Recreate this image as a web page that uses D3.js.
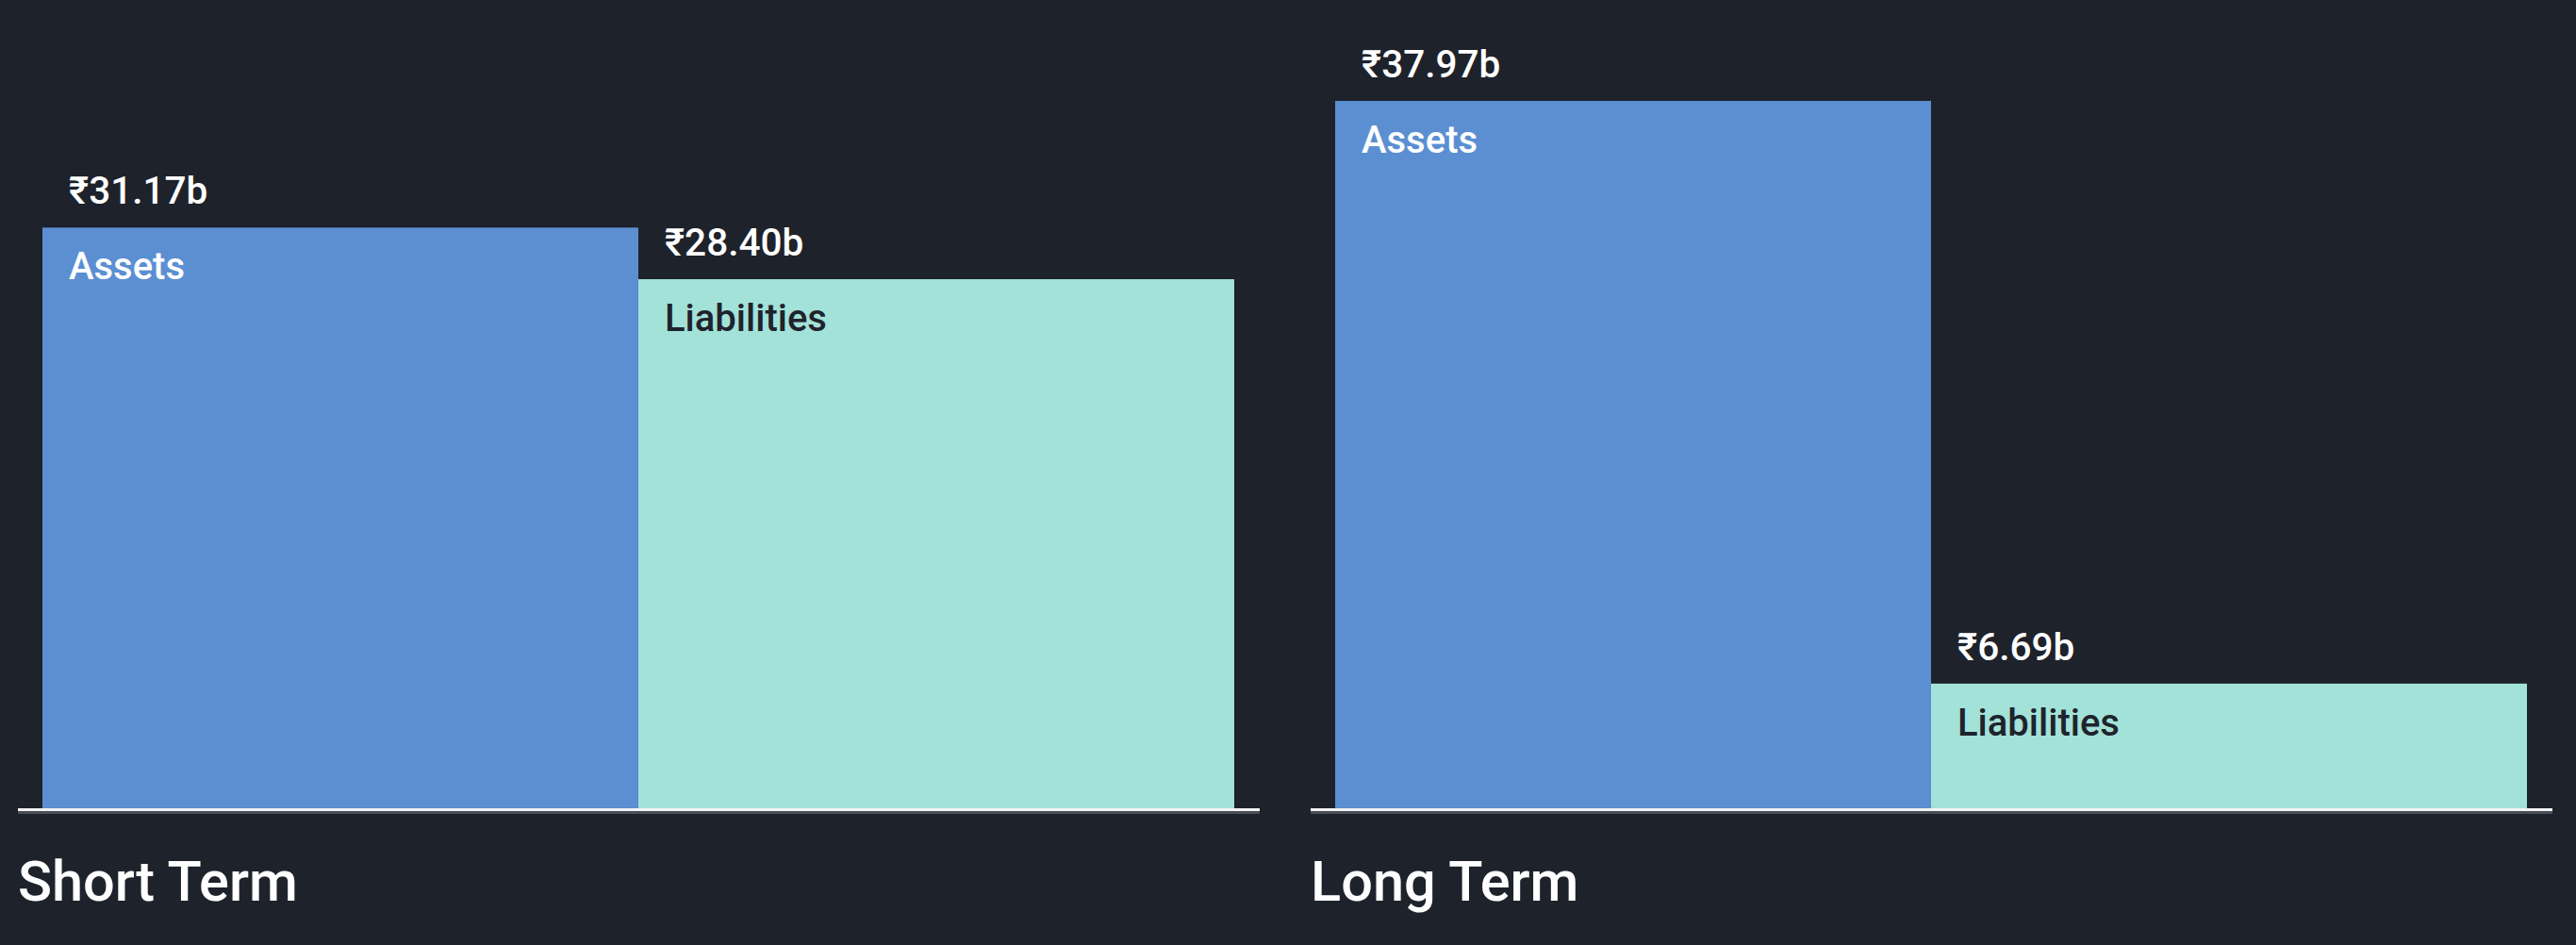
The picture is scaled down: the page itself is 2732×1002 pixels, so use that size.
<!DOCTYPE html>
<html>
<head>
<meta charset="utf-8">
<script src="https://cdn.jsdelivr.net/npm/d3@7"></script>
<style>
  html, body { margin: 0; padding: 0; background: #1e222b; }
  svg { display: block; }
</style>
</head>
<body>
<svg id="chart" width="2732" height="1002"></svg>
<script>
const categories = ["Short Term", "Long Term"];
const seriesNames = ["Assets", "Liabilities"];
const assetsValues = [31.17, 37.97];
const liabilitiesValues = [28.40, 6.69];
const valuePrefix = "₹";
const valueSuffix = "b";

const W = 2732, H = 1002;
const baseY = 857, topY = 107;
const colors = { Assets: "#5b8fd2", Liabilities: "#a2e2d8" };
const labelColors = { Assets: "#ffffff", Liabilities: "#1f232c" };

const svg = d3.select("#chart");
svg.append("rect").attr("width", W).attr("height", H).attr("fill", "#1e222b");

const rows = categories.map((c, i) => ({
  category: c,
  values: [
    { series: "Assets", value: assetsValues[i] },
    { series: "Liabilities", value: liabilitiesValues[i] }
  ]
}));

const x0 = d3.scaleBand().domain(categories).range([19, 2707]).paddingInner(0.0394);
const bw = x0.bandwidth();
const x1 = d3.scaleBand().domain(seriesNames).range([26, bw - 27]);
const y = d3.scaleLinear().domain([0, d3.max(assetsValues.concat(liabilitiesValues))]).range([baseY, topY]);

const panel = svg.selectAll("g.panel").data(rows).enter().append("g")
  .attr("class", "panel")
  .attr("transform", d => `translate(${x0(d.category)},0)`);

const bar = panel.selectAll("g.bar").data(d => d.values).enter().append("g").attr("class", "bar");

bar.append("rect")
  .attr("x", d => x1(d.series))
  .attr("y", d => y(d.value))
  .attr("width", x1.bandwidth())
  .attr("height", d => baseY - y(d.value))
  .attr("fill", d => colors[d.series]);

bar.append("text")
  .attr("x", d => x1(d.series) + 28)
  .attr("y", d => y(d.value) - 25)
  .attr("fill", "#ffffff")
  .attr("font-family", "Roboto, sans-serif")
  .attr("font-weight", 500)
  .attr("font-size", 40.5)
  .text(d => valuePrefix + d.value.toFixed(2) + valueSuffix);

bar.append("text")
  .attr("x", d => x1(d.series) + 28)
  .attr("y", d => y(d.value) + 55)
  .attr("fill", d => labelColors[d.series])
  .attr("font-family", "Roboto, sans-serif")
  .attr("font-weight", 500)
  .attr("font-size", 40)
  .text(d => d.series);

// baseline
panel.append("rect")
  .attr("x", 0).attr("y", baseY)
  .attr("width", bw).attr("height", 3)
  .attr("fill", "#f2f2f2");
panel.append("rect")
  .attr("x", 0).attr("y", baseY + 3)
  .attr("width", bw).attr("height", 3)
  .attr("fill", "#4a4e57");

// category labels
panel.append("text")
  .attr("x", 0)
  .attr("y", 955)
  .attr("fill", "#ffffff")
  .attr("font-family", "Roboto, sans-serif")
  .attr("font-weight", 500)
  .attr("font-size", 59.5)
  .text(d => d.category);
</script>
</body>
</html>
